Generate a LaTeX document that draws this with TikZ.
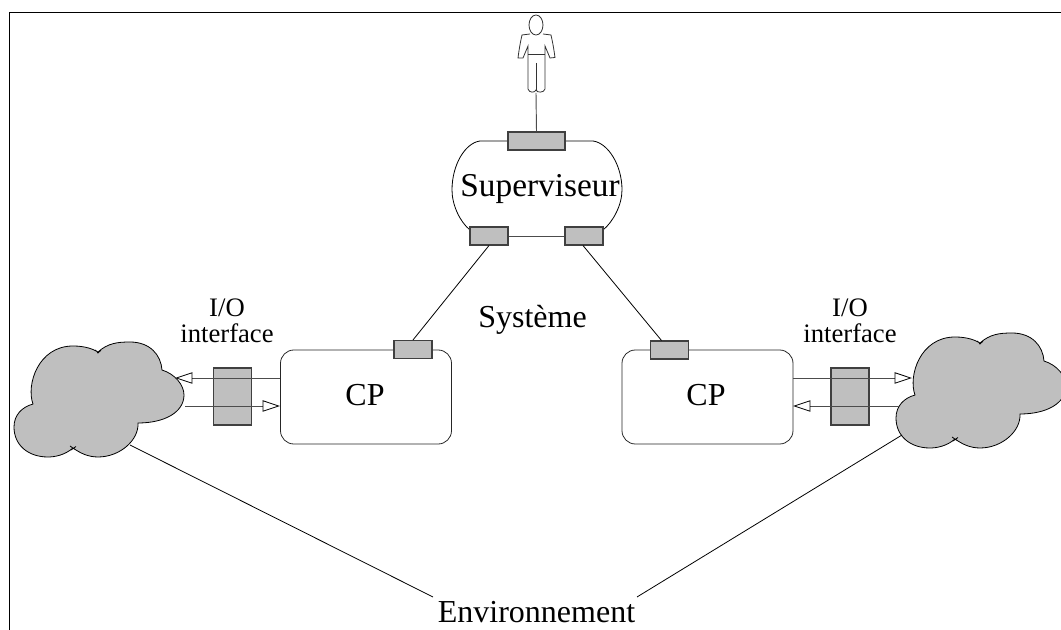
\documentclass[tikz,border=0pt]{standalone}
\usepackage{fontspec}
\setmainfont{Liberation Serif}
\usetikzlibrary{arrows.meta}
\tikzset{
  x=0.75pt,y=-0.75pt,
  line/.style={draw=black,line width=0.6pt},
  port/.style={draw=black!75,fill=black!25,line width=0.8pt,minimum width=#1*0.75pt,inner sep=0pt},
  port/.default=38,
  wire/.style={draw=black!70,line width=0.7pt},
  io/.style={draw=black!70,line width=0.7pt,-{Triangle[open,fill=white,length=13pt,width=8.5pt,line width=0.6pt,color=black]}},
  box/.style={draw=black!85,line width=0.6pt,rounded corners=10pt,inner sep=0pt},
  lbl/.style={inner sep=0pt,anchor=base,font=\fontsize{#1}{#1}\selectfont,align=center},
  cloudshape/.style={draw=black,fill=black!25,line width=0.6pt}
}
\newcommand{\cloudpath}{
  (33,404) .. controls (26,385) and (38,346) .. (73,346)
  .. controls (85,346) and (93,349) .. (98,352)
  .. controls (108,343) and (118,342) .. (130,342)
  .. controls (150,342) and (161,355) .. (162,370)
  .. controls (175,374) and (184,385) .. (184,395)
  .. controls (184,412) and (165,423) .. (138,423)
  .. controls (139,440) and (120,457) .. (98,457)
  .. controls (88,457) and (80,453) .. (73,448)
  .. controls (65,455) and (55,457) .. (48,457)
  .. controls (28,457) and (14,445) .. (14,427)
  .. controls (14,415) and (22,407) .. (33,404) -- cycle
  (95,350) -- (99,353) (101,350.5) -- (97,353)
  (70,446) -- (75,449.5) (76,446.5) -- (71,450)
}
\begin{document}
\begin{tikzpicture}
\useasboundingbox (0,0) rectangle (1061,630);
\clip (0,0) rectangle (1061,630);
% frame
\coordinate (fbl) at (9,630); \coordinate (ftl) at (9,12.3);
\coordinate (ftr) at (1061,12.3);
\draw[draw=black,line width=0.75pt] (fbl) -- (ftl) -- (ftr);
% clouds
\draw[cloudshape] \cloudpath;
\draw[cloudshape,shift={(882,-9)}] \cloudpath;
% person
\begin{scope}[line width=0.6pt,draw=black!80]
\draw (536,25) ellipse (7 and 10);
\draw (530,34) -- (522,35) .. controls (520,44) and (519,50) .. (518,58) -- (523,58) -- (528,46)
      -- (528,70) -- (528,89) .. controls (529,93) and (535,93) .. (536,90)
      .. controls (537,93) and (544,93) .. (545,89) -- (545,46) -- (550,58) -- (555,57.5)
      .. controls (554,50) and (553,44) .. (551,35) -- (543,34);
\draw (528,54) -- (545,54);
\draw (536,63) -- (536,90);
\end{scope}
\coordinate (feet) at (536,93);
% supervisor
\draw[line] (508,141) -- (480,141) .. controls (465,143) and (452,165) .. (452,190)
  .. controls (452,205) and (460,222) .. (470,230);
\draw[line] (565,141) -- (593,141) .. controls (608,143) and (622,165) .. (622,190)
  .. controls (622,205) and (613,222) .. (603,230);
\node[port=57,minimum height=18*0.75pt] (ptop) at (536.5,141) {};
\node[port=38,minimum height=18*0.75pt] (pl) at (489,236) {};
\node[port=38,minimum height=18*0.75pt] (pr) at (584,236) {};
\draw[wire] (feet) -- (ptop.north);
\draw[wire] (pl.east) -- (pr.west);
\node[lbl=25] (sup) at (540,197) {Superviseur};
% CPs
\node[box,minimum width=171*0.75pt,minimum height=94*0.75pt] (cpl) at (366,397) {};
\node[box,minimum width=171*0.75pt,minimum height=94*0.75pt] (cpr) at (707.5,397) {};
\node[lbl=24] (cpltxt) at (365,406) {CP};
\node[lbl=24] (cprtxt) at (706,406) {CP};
\node[port=38,minimum height=18*0.75pt] (cplp) at (413,349.5) {};
\node[port=38,minimum height=18*0.75pt] (cprp) at (669.5,350) {};
\draw[line] (pl.south) -- (cplp.north);
\draw[line] ([xshift=-0.75pt]pr.south) -- ([xshift=-6pt]cprp.north);
% IO boxes
\node[port=38,minimum height=57*0.75pt] (iol) at (232.5,396.5) {};
\node[port=38,minimum height=57*0.75pt] (ior) at (850,396.5) {};
\coordinate (ca1) at (175,378); \coordinate (ca2) at (185,406);
\coordinate (cb1) at (912,378); \coordinate (cb2) at (900,406);
\coordinate (cpl1) at (280,378); \coordinate (cpl2) at (280,406);
\coordinate (cpr1) at (793,378); \coordinate (cpr2) at (793,406);
\draw[io] (cpl1) -- (ca1);
\draw[io] (ca2) -- (cpl2);
\draw[io] (cpr1) -- (cb1);
\draw[io] (cb2) -- (cpr2);
% texts
\node[lbl=24] (sys) at (532.5,328) {Système};
\node[lbl=20] (ltxt) at (227,343) {I/O\\interface};
\node[lbl=20] (rtxt) at (850,343) {I/O\\interface};
\node[lbl=24] (env) at (536.5,623) {Environnement};
% environment lines
\coordinate (cll) at (130,445); \coordinate (crl) at (902,435);
\coordinate (el) at (433,597); \coordinate (er) at (637,597);
\draw[line] (cll) -- (el);
\draw[line] (crl) -- (er);
\end{tikzpicture}
\end{document}
